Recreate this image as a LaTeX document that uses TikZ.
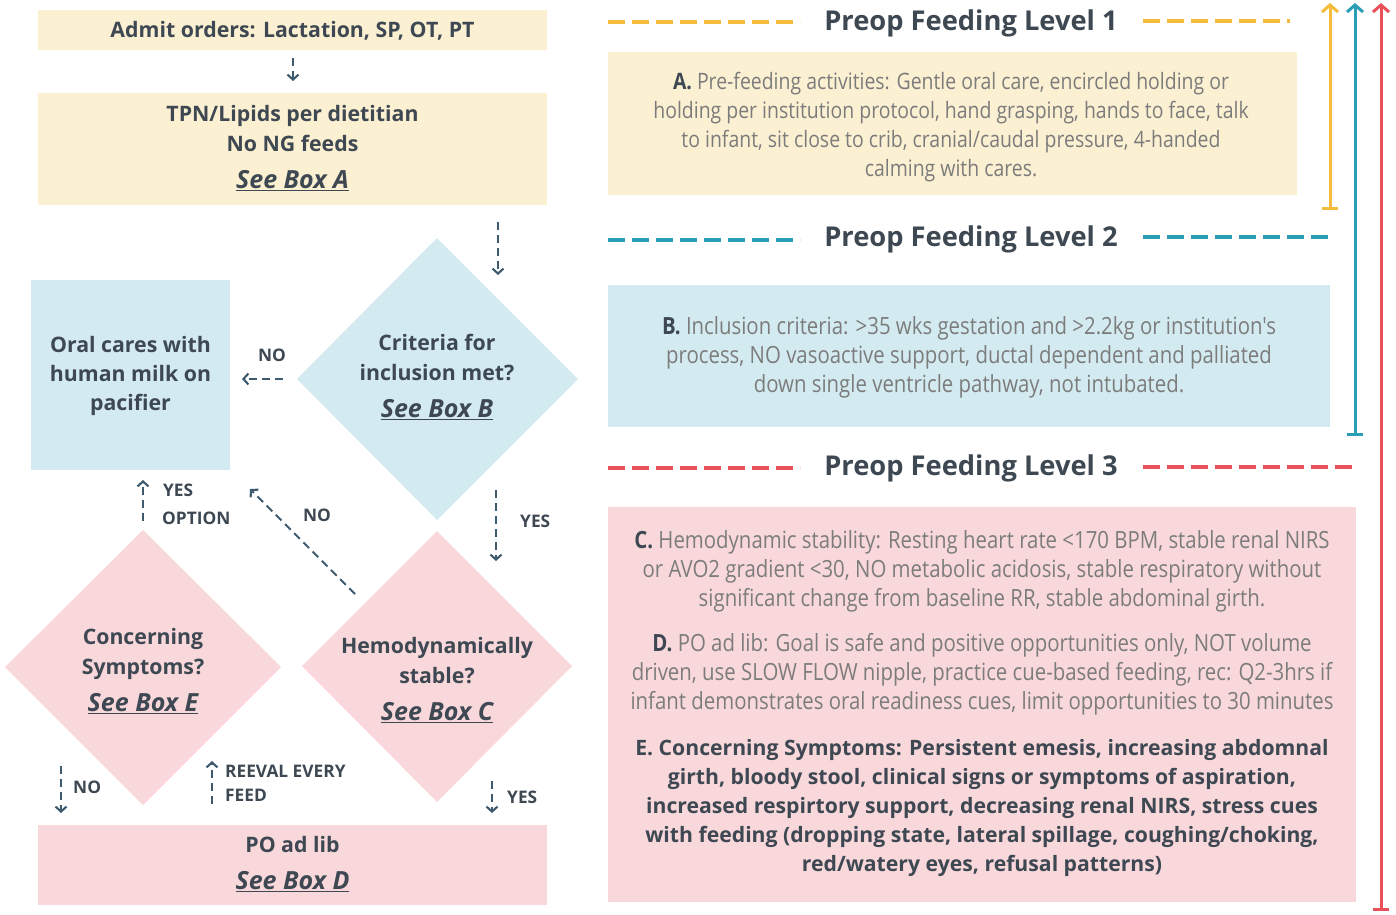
\documentclass[tikz,border=0pt]{standalone}
\usepackage{fontspec}
\setmainfont{Open Sans}
\newfontfamily\condf{Open Sans}[FakeStretch=0.86]
\usetikzlibrary{arrows.meta}
\definecolor{cream}{HTML}{FCF0D2}
\definecolor{lblue}{HTML}{D3EBF0}
\definecolor{lpink}{HTML}{F9D8DB}
\definecolor{dk}{HTML}{3E4852}
\definecolor{gr}{HTML}{7C7C7C}
\definecolor{arr}{HTML}{3E5A6E}
\definecolor{yel}{HTML}{F4BC3A}
\definecolor{teal}{HTML}{2B9DB5}
\definecolor{red}{HTML}{E8505A}
\newcommand\lblfont{\fontsize{21.3}{30}\selectfont\bfseries\color{dk}}
\newcommand\seebox[1]{\fontsize{25}{28}\selectfont\bfseries\itshape\underline{#1}}
\newcommand\smallfont{\fontsize{17.3}{24}\selectfont\bfseries\color{dk}}
\newcommand\bodyfont{\condf\fontsize{22.6}{29}\selectfont\color{gr}}
\newcommand\bodyfontb{\condf\fontsize{23.7}{29}\selectfont\color{gr}}
\newcommand\efont{\fontsize{21.2}{29}\selectfont\bfseries\color{dk}}
\newcommand\ttlfont{\fontsize{27.3}{30}\selectfont\bfseries\color{dk}}
\begin{document}
\begin{tikzpicture}[x=1pt,y=-1pt,
  boxfill/.style={draw=none, inner sep=0pt, anchor=center},
  lbl/.style={align=center, inner sep=0pt, font=\lblfont},
  small/.style={inner sep=0pt, font=\smallfont, align=left},
  conn/.style={draw=arr, line width=2.1pt, dash pattern=on 8pt off 5pt, -{Straight Barb[length=5pt,width=11pt,line width=2.1pt]}},
  title/.style={inner sep=0pt, font=\ttlfont},
  dashy/.style={line width=3.5pt, dash pattern=on 17pt off 7pt},
  body/.style={align=center, inner sep=0pt, font=\bodyfont},
  bodyb/.style={align=center, inner sep=0pt, font=\bodyfontb},
  vline/.style={line width=3pt, {Bar[width=16pt,line width=3pt]}-{Straight Barb[length=7pt,width=16pt,line width=3pt]}}
]
\useasboundingbox (0,0) rectangle (1396,914);

% ---------- left flowchart ----------
\node[boxfill, fill=cream, minimum width=509pt, minimum height=40pt] (admit) at (292.5,30) {};
\node[lbl] (admitT) at (292.5,31) {Admit orders: Lactation, SP, OT, PT};

\node[boxfill, fill=cream, minimum width=509pt, minimum height=112pt] (tpn) at (292.5,149) {};
\node[lbl] (tpnT) at (292.5,148.5) {TPN/Lipids per dietitian\\No NG feeds\\[7pt]\seebox{See Box A}};

\node[boxfill, fill=lblue, minimum width=199pt, minimum height=190pt] (oral) at (130.5,375) {};
\node[lbl, font=\fontsize{21.3}{29}\selectfont\bfseries\color{dk}] (oralT) at (130.5,376) {Oral cares with\\human milk on\\pacifier};

\fill[lblue] (437,238) -- (578,379) -- (437,520) -- (297,379) -- cycle;
\node[lbl] (crit) at (437,377) {Criteria for\\inclusion met?\\[7pt]\seebox{See Box B}};

\fill[lpink] (437,531) -- (572,666) -- (437,802) -- (302,666) -- cycle;
\node[lbl] (hemo) at (437,680) {Hemodynamically\\stable?\\[7pt]\seebox{See Box C}};

\fill[lpink] (143,530) -- (281,667) -- (143,805) -- (5,667) -- cycle;
\node[lbl] (conc) at (143,671) {Concerning\\Symptoms?\\[7pt]\seebox{See Box E}};

\node[boxfill, fill=lpink, minimum width=509pt, minimum height=80pt] (po) at (292.5,865) {};
\node[lbl] (poT) at (292.5,864) {PO ad lib\\[7pt]\seebox{See Box D}};

% connector end points
\coordinate (c1a) at (293,58);  \coordinate (c1b) at (293,81);
\coordinate (c2a) at (498,222); \coordinate (c2b) at (498,275);
\coordinate (c3a) at (283,379); \coordinate (c3b) at (242,379);
\coordinate (c4a) at (496,490); \coordinate (c4b) at (496,561);
\coordinate (c5a) at (355,594); \coordinate (c5b) at (250,489);
\coordinate (c6a) at (143,521); \coordinate (c6b) at (143,480);
\coordinate (c7a) at (61,766);  \coordinate (c7b) at (61,813);
\coordinate (c8a) at (212,804); \coordinate (c8b) at (212,761);
\coordinate (c9a) at (492,781); \coordinate (c9b) at (492,813);

\draw[conn] (c1a) -- (c1b);
\draw[conn] (c2a) -- (c2b);
\draw[conn] (c3a) -- (c3b);
\draw[conn] (c4a) -- (c4b);
\draw[conn] (c5a) -- (c5b);
\draw[conn] (c6a) -- (c6b);
\draw[conn] (c7a) -- (c7b);
\draw[conn] (c8a) -- (c8b);
\draw[conn] (c9a) -- (c9b);

\node[small] (l3) at (272,355) {NO};
\node[small, anchor=west] (l4) at (520,521) {YES};
\node[small] (l5) at (317,515) {NO};
\node[small, anchor=west] (l6a) at (163,490) {YES};
\node[small, anchor=west] (l6b) at (162,518) {OPTION};
\node[small, anchor=west] (l7) at (73,787) {NO};
\node[small, anchor=west] (l8a) at (225,771) {REEVAL EVERY};
\node[small, anchor=west] (l8b) at (225,795) {FEED};
\node[small, anchor=west] (l9) at (507,797) {YES};

% ---------- right column ----------
\node[title] (t1) at (971,23) {Preop Feeding Level 1};
\node[title] (t2) at (971,239) {Preop Feeding Level 2};
\node[title] (t3) at (971,468) {Preop Feeding Level 3};

\coordinate (y1a) at (608,22);  \coordinate (y1b) at (800,22);
\coordinate (y2a) at (1143,21); \coordinate (y2b) at (1290,21);
\coordinate (b1a) at (608,240); \coordinate (b1b) at (800,240);
\coordinate (b2a) at (1143,237);\coordinate (b2b) at (1332,237);
\coordinate (r1a) at (608,468); \coordinate (r1b) at (800,468);
\coordinate (r2a) at (1143,467);\coordinate (r2b) at (1352,467);
\draw[dashy, yel] (y1a) -- (y1b);
\draw[dashy, yel] (y2a) -- (y2b);
\draw[dashy, teal] (b1a) -- (b1b);
\draw[dashy, teal] (b2a) -- (b2b);
\draw[dashy, red] (r1a) -- (r1b);
\draw[dashy, red] (r2a) -- (r2b);

\node[boxfill, fill=cream, minimum width=689pt, minimum height=143pt] (boxA) at (952.5,123.5) {};
\node[body] (txtA) at (951,127) {{\bfseries\color{dk}A.} Pre-feeding activities: Gentle oral care, encircled holding or\\holding per institution protocol, hand grasping, hands to face, talk\\to infant, sit close to crib, cranial/caudal pressure, 4-handed\\calming with cares.};

\node[boxfill, fill=lblue, minimum width=722pt, minimum height=142pt] (boxB) at (969,356) {};
\node[bodyb] (txtB) at (969,357.5) {{\bfseries\color{dk}B.} Inclusion criteria: >35 wks gestation and >2.2kg or institution's\\process, NO vasoactive support, ductal dependent and palliated\\down single ventricle pathway, not intubated.};

\node[boxfill, fill=lpink, minimum width=748pt, minimum height=395pt] (boxC) at (982,704.5) {};
\node[bodyb] (txtC) at (982,571.5) {{\bfseries\color{dk}C.} Hemodynamic stability: Resting heart rate <170 BPM, stable renal NIRS\\or AVO2 gradient <30, NO metabolic acidosis, stable respiratory without\\significant change from baseline RR, stable abdominal girth.};
\node[bodyb] (txtD) at (982,674.5) {{\bfseries\color{dk}D.} PO ad lib: Goal is safe and positive opportunities only, NOT volume\\driven, use SLOW FLOW nipple, practice cue-based feeding, rec: Q2-3hrs if\\infant demonstrates oral readiness cues, limit opportunities to 30 minutes};
\node[body, font=\efont] (txtE) at (982,807.5) {E. Concerning Symptoms: Persistent emesis, increasing abdomnal\\girth, bloody stool, clinical signs or symptoms of aspiration,\\increased respirtory support, decreasing renal NIRS, stress cues\\with feeding (dropping state, lateral spillage, coughing/choking,\\red/watery eyes, refusal patterns)};

\coordinate (vy1) at (1330,210); \coordinate (vy2) at (1330,3);
\coordinate (vt1) at (1355,436); \coordinate (vt2) at (1355,3);
\coordinate (vr1) at (1381,911); \coordinate (vr2) at (1381,3);
\draw[vline, yel] (vy1) -- (vy2);
\draw[vline, teal] (vt1) -- (vt2);
\draw[vline, red] (vr1) -- (vr2);
\end{tikzpicture}
\end{document}
